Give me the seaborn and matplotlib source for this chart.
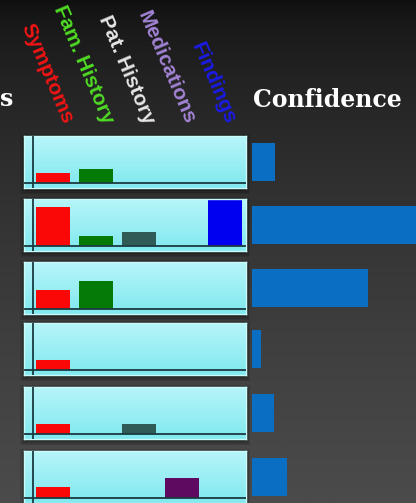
import numpy as np
import pandas as pd
import seaborn as sns
import matplotlib.pyplot as plt
from matplotlib.colors import LinearSegmentedColormap

# evidence categories shown above the small panels
categories = ['Symptoms', 'Fam. History', 'Pat. History', 'Medications', 'Findings']
label_colors = ['#f01414', '#4fdc24', '#e6e6e6', '#a283d4', '#1a1ae6']
bar_colors = ['#fa0808', '#067a06', '#2f5a55', '#5e0a60', '#0000f0']

# evidence strength per row (0..1 of panel height)
symptoms = [0.21, 0.83, 0.40, 0.21, 0.21, 0.23]
fam_history = [0.30, 0.21, 0.60, 0.0, 0.0, 0.0]
pat_history = [0.0, 0.29, 0.0, 0.0, 0.21, 0.0]
medications = [0.0, 0.0, 0.0, 0.0, 0.0, 0.43]
findings = [0.0, 0.97, 0.0, 0.0, 0.0, 0.0]

# confidence per row
confidence = [0.13, 1.0, 0.66, 0.05, 0.125, 0.20]

W, H = 416, 503
row_tops = [136, 199, 262, 323, 387, 451]
panel_h = 52


def rect(x0, y0, w, h):
    # pixel box (top-left origin) -> figure fraction
    return [x0 / W, 1 - (y0 + h) / H, w / W, h / H]


sns.set_style('white')
fig = plt.figure(figsize=(W / 100, H / 100), dpi=100)

# dark gradient background
bg = fig.add_axes([0, 0, 1, 1], zorder=-10)
grad = np.linspace(0, 1, 256) ** 0.6
bg_cmap = LinearSegmentedColormap.from_list('bg', ['#0f0f0f', '#4b4b4b'])
bg.imshow(grad[:, None], cmap=bg_cmap, aspect='auto', extent=(0, W, H, 0))
# soft shadows under the panels
for top in row_tops:
    for k, a in [(4, 0.10), (2.5, 0.12), (1, 0.15)]:
        bg.add_patch(plt.Rectangle((24 - k, top + 2 - k), 222 + 2 * k, panel_h + 2 * k,
                                   color='black', alpha=a, lw=0))
bg.set_xlim(0, W)
bg.set_ylim(H, 0)
bg.axis('off')

panel_cmap = LinearSegmentedColormap.from_list('panel', ['#b6f5f9', '#80e9ef'])
xlim = (-0.674, 4.488)
ylim = (-5 / 47, 1.0)

for i, top in enumerate(row_tops):
    ax = fig.add_axes(rect(24, top, 222, panel_h))
    df = pd.DataFrame({
        'category': categories,
        'value': [symptoms[i], fam_history[i], pat_history[i], medications[i], findings[i]],
    })
    ax.imshow(np.linspace(0, 1, 64)[:, None], cmap=panel_cmap, aspect='auto',
              extent=(xlim[0], xlim[1], ylim[0], ylim[1]), origin='upper', zorder=0)
    sns.barplot(data=df, x='category', y='value', hue='category', palette=bar_colors,
                order=categories, hue_order=categories, legend=False, saturation=1,
                width=0.77, linewidth=0, edgecolor='none', ax=ax, zorder=2)
    ax.axhline(0, color='#1b3a42', lw=1.3, zorder=3)
    ax.axvline(-0.465, color='#1b3a42', lw=1.3, zorder=3)
    ax.set_xlim(*xlim)
    ax.set_ylim(*ylim)
    ax.set_xticks([])
    ax.set_yticks([])
    ax.set_xlabel('')
    ax.set_ylabel('')
    for sp in ax.spines.values():
        sp.set_color('#c9fbfb')
        sp.set_linewidth(1)

    # confidence bar for the row
    cax = fig.add_axes(rect(252, top, 175, panel_h))
    sns.barplot(x=[confidence[i]], y=['c'], orient='h', color='#0a6ec3',
                saturation=1, width=0.73, linewidth=0, edgecolor='none', ax=cax)
    cax.set_xlim(0, 1)
    cax.set_ylim(0.5, -0.5)
    cax.axis('off')

# rotated column headers above the first panel
for j, (name, col) in enumerate(zip(categories, label_colors)):
    xp = 53 + 43 * j + 15 - 2.5 * j
    fig.text(xp / W, 1 - 123 / H, name, rotation=-67, rotation_mode='anchor',
             ha='right', va='center', color=col, fontsize=15, fontweight='bold',
             family='Liberation Sans')

fig.text(253 / W, 1 - 107 / H, 'Confidence', color='white', fontsize=17,
         fontweight='bold', family='DejaVu Serif', ha='left', va='baseline')
# only the tail of the left header is visible in the reference
fig.text(0, 1 - 106 / H, 's', color='white', fontsize=17, fontweight='bold',
         family='DejaVu Serif', ha='left', va='baseline')

fig.savefig('out.png', dpi=100)
